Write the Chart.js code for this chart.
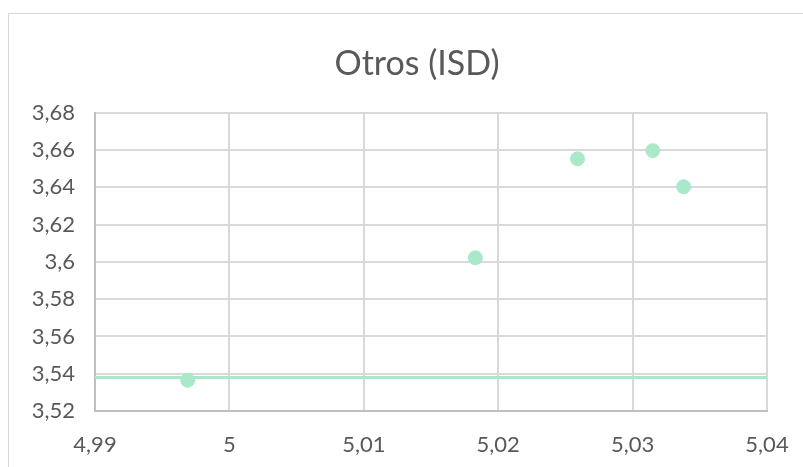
<!DOCTYPE html>
<html>
<head>
<meta charset="utf-8">
<script src="https://cdn.jsdelivr.net/npm/chart.js@4"></script>
<style>
  html, body { margin: 0; padding: 0; background: #fff; overflow: hidden; }
  #frame { position: absolute; left: 8px; top: 13px; width: 816px; height: 480px; border: 1px solid #d9d9d9; }
  #wrap { position: absolute; left: 0; top: 0; width: 816px; height: 453px; }
</style>
</head>
<body>
<div id="frame"><div id="wrap"><canvas id="otrosChart"></canvas></div></div>
<script>
// measured points
var xValues = [4.9969, 5.0183, 5.0259, 5.0315, 5.0338];
var yValues = [3.5365, 3.6022, 3.6553, 3.6597, 3.6403];
// horizontal reference line
var refLineX = [4.99, 5.04];
var refLineY = [3.538, 3.538];

var green = "#a9e8c9";
var grey = "#595959";

function comma(v) {
    return Number(v.toFixed(2)).toString().replace('.', ',');
}

var points = xValues.map(function (x, i) { return { x: x, y: yValues[i] }; });
var refLine = refLineX.map(function (x, i) { return { x: x, y: refLineY[i] }; });

const ctx = document.getElementById('otrosChart').getContext('2d');
var scatterChart = new Chart(ctx, {
    type: "scatter",
    data: {
        datasets: [
            {
                label: "Otros",
                data: points,
                backgroundColor: green,
                borderColor: green,
                pointRadius: 7,
                pointHoverRadius: 7,
                order: 1
            },
            {
                type: "line",
                label: "Referencia",
                data: refLine,
                borderColor: green,
                borderWidth: 3,
                pointRadius: 0,
                fill: false,
                order: 2
            }
        ]
    },
    options: {
        responsive: true,
        maintainAspectRatio: false,
        animation: false,
        layout: { padding: 0 },
        plugins: {
            legend: { display: false },
            tooltip: { enabled: false },
            title: {
                display: true,
                text: 'Otros (ISD)',
                color: grey,
                font: { family: 'Lato', size: 34, weight: 'normal' },
                padding: { top: 30, bottom: 28 }
            }
        },
        scales: {
            x: {
                type: 'linear',
                min: 4.99,
                max: 5.04,
                ticks: {
                    stepSize: 0.01,
                    color: grey,
                    font: { family: 'Lato', size: 22 },
                    padding: 21,
                    callback: function (v) { return comma(v); }
                },
                grid: { color: "#d9d9d9", lineWidth: 2, drawTicks: false },
                border: { color: "#bfbfbf", width: 2 },
                afterFit: function (axis) { axis.height = 56; }
            },
            y: {
                type: 'linear',
                min: 3.52,
                max: 3.68,
                ticks: {
                    stepSize: 0.02,
                    color: grey,
                    font: { family: 'Lato', size: 22 },
                    padding: 20,
                    callback: function (v) { return comma(v); }
                },
                grid: { color: "#d9d9d9", lineWidth: 2, drawTicks: false },
                border: { color: "#bfbfbf", width: 2 },
                afterFit: function (axis) { axis.width = 86; }
            },
            // empty right-hand space so the title stays centred on the whole frame
            yRight: {
                type: 'linear',
                position: 'right',
                display: true,
                grid: { display: false, drawTicks: false },
                ticks: { display: false },
                border: { display: false },
                afterFit: function (axis) { axis.width = 58; }
            }
        }
    }
});
</script>
</body>
</html>
